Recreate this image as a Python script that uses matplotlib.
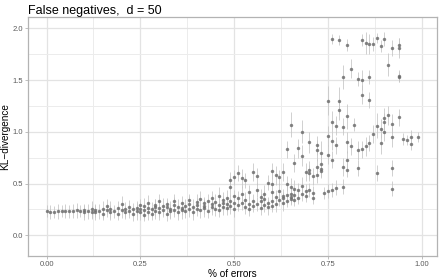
# KL-divergence vs share of false negatives (d = 50)

import matplotlib.pyplot as plt
from matplotlib.ticker import MultipleLocator

plt.rcParams["font.family"] = ["Liberation Sans", "DejaVu Sans"]

# % of errors for each run
pct = [
    0.00, 0.01, 0.02, 0.03, 0.04, 0.05, 0.06, 0.07, 0.08, 0.09,
    0.10, 0.10, 0.11, 0.12, 0.12, 0.13, 0.13, 0.14, 0.15, 0.15,
    0.16, 0.16, 0.17, 0.17, 0.18, 0.19, 0.19, 0.20, 0.20, 0.21,
    0.21, 0.22, 0.22, 0.23, 0.23, 0.24, 0.24, 0.25, 0.25, 0.25,
    0.26, 0.26, 0.26, 0.27, 0.27, 0.27, 0.28, 0.28, 0.29, 0.29,
    0.29, 0.30, 0.30, 0.30, 0.31, 0.31, 0.32, 0.32, 0.32, 0.33,
    0.33, 0.34, 0.34, 0.34, 0.35, 0.35, 0.36, 0.36, 0.36, 0.37,
    0.37, 0.38, 0.38, 0.38, 0.39, 0.39, 0.40, 0.40, 0.40, 0.41,
    0.41, 0.42, 0.42, 0.42, 0.43, 0.43, 0.44, 0.44, 0.44, 0.45,
    0.45, 0.46, 0.46, 0.46, 0.47, 0.47, 0.47, 0.48, 0.48, 0.48,
    0.49, 0.49, 0.49, 0.49, 0.50, 0.50, 0.50, 0.50,
    0.51, 0.51, 0.51, 0.52, 0.52, 0.52, 0.53, 0.53, 0.53,
    0.54, 0.54, 0.54, 0.55, 0.55, 0.55, 0.56, 0.56, 0.56,
    0.57, 0.57, 0.57, 0.58, 0.58, 0.58, 0.59, 0.59, 0.59,
    0.60, 0.60, 0.60, 0.60, 0.60, 0.61, 0.61, 0.61, 0.62, 0.62, 0.62,
    0.63, 0.63, 0.63, 0.63, 0.64, 0.64, 0.64, 0.64,
    0.65, 0.65, 0.65, 0.65, 0.65, 0.66, 0.66, 0.66, 0.66,
    0.67, 0.67, 0.67, 0.68, 0.68, 0.68, 0.68, 0.69, 0.69, 0.69,
    0.70, 0.70, 0.70, 0.70, 0.71, 0.71, 0.71,
    0.72, 0.72, 0.72, 0.72, 0.73, 0.73, 0.73, 0.73, 0.74,
    0.75, 0.75, 0.75, 0.75, 0.76, 0.76, 0.76, 0.76, 0.76,
    0.77, 0.77, 0.77, 0.78, 0.78, 0.78,
    0.79, 0.79, 0.79, 0.79, 0.80, 0.80, 0.80, 0.80, 0.80,
    0.81, 0.81, 0.82, 0.83, 0.83, 0.83, 0.84, 0.84, 0.84, 0.84,
    0.85, 0.85, 0.86, 0.86, 0.86, 0.86, 0.87, 0.87, 0.88, 0.88, 0.88,
    0.89, 0.89, 0.89, 0.90, 0.90, 0.90, 0.90, 0.91, 0.91,
    0.92, 0.92, 0.92, 0.92, 0.92, 0.94, 0.94, 0.94, 0.94, 0.94,
    0.95, 0.96, 0.97, 0.97, 0.99,
]

# estimated KL-divergence (mean)
kl = [
    0.235, 0.225, 0.225, 0.23, 0.235, 0.235, 0.23, 0.235, 0.24, 0.235,
    0.22, 0.24, 0.23, 0.25, 0.22, 0.22, 0.24, 0.23, 0.25, 0.21,
    0.28, 0.24, 0.22, 0.25, 0.23, 0.26, 0.21, 0.24, 0.30, 0.22,
    0.25, 0.27, 0.23, 0.21, 0.25, 0.26, 0.23, 0.22, 0.29, 0.25,
    0.24, 0.20, 0.28, 0.22, 0.26, 0.31, 0.25, 0.21, 0.27, 0.23,
    0.29, 0.22, 0.26, 0.33, 0.24, 0.28, 0.21, 0.27, 0.30, 0.25,
    0.23, 0.29, 0.24, 0.33, 0.22, 0.27, 0.26, 0.31, 0.24, 0.28,
    0.23, 0.30, 0.25, 0.34, 0.27, 0.22, 0.29, 0.32, 0.25, 0.24,
    0.35, 0.28, 0.31, 0.26, 0.33, 0.23, 0.30, 0.36, 0.27, 0.25,
    0.32, 0.29, 0.38, 0.24, 0.34, 0.27, 0.31, 0.26, 0.36, 0.30,
    0.53, 0.28, 0.33, 0.47, 0.25, 0.31, 0.56, 0.38,
    0.60, 0.36, 0.29, 0.55, 0.31, 0.40, 0.53, 0.27, 0.34,
    0.42, 0.30, 0.25, 0.61, 0.33, 0.28, 0.57, 0.44, 0.30,
    0.37, 0.26, 0.33, 0.40, 0.29, 0.35, 0.51, 0.31, 0.27,
    0.62, 0.50, 0.42, 0.33, 0.28, 0.58, 0.37, 0.30, 0.56, 0.43, 0.34,
    0.61, 0.38, 0.31, 0.36, 0.83, 0.50, 0.39, 0.33,
    1.07, 0.47, 0.37, 0.35, 0.40, 0.70, 0.39, 0.34, 0.45,
    0.84, 0.44, 0.36, 0.77, 1.00, 0.48, 0.40, 0.61, 0.43, 0.38,
    0.90, 0.63, 0.60, 0.44, 0.57, 0.41, 0.36,
    0.87, 0.82, 0.66, 0.58, 0.80, 0.69, 0.64, 0.62, 0.41,
    1.30, 0.96, 0.78, 0.43, 1.90, 1.10, 0.91, 0.73, 0.44,
    1.06, 0.87, 0.46, 1.89, 1.30, 1.21,
    1.53, 1.05, 0.66, 0.47, 1.84, 1.15, 0.90, 0.73, 0.63,
    1.61, 0.86, 1.07, 1.51, 0.82, 0.65, 1.89, 1.50, 1.36, 0.83,
    1.86, 0.86, 1.85, 1.53, 1.31, 0.89, 1.85, 0.98, 1.91, 1.06, 0.60,
    1.83, 1.03, 0.89, 1.90, 1.13, 1.10, 1.00, 1.65, 1.16,
    1.81, 1.08, 0.95, 0.65, 0.45, 1.84, 1.81, 1.54, 1.53, 1.14,
    0.93, 0.92, 0.95, 0.88, 0.95,
]

# half-width of the error bars
kl_err = [
    0.06, 0.07, 0.06, 0.07, 0.06, 0.07, 0.06, 0.07, 0.07, 0.06,
    0.07, 0.06, 0.07, 0.08, 0.06, 0.07, 0.06, 0.07, 0.08, 0.06,
    0.07, 0.06, 0.07, 0.08, 0.06, 0.07, 0.06, 0.07, 0.08, 0.06,
    0.07, 0.07, 0.06, 0.07, 0.06, 0.07, 0.08, 0.07, 0.06, 0.07,
    0.07, 0.06, 0.08, 0.07, 0.06, 0.08, 0.07, 0.06, 0.08, 0.07,
    0.06, 0.07, 0.08, 0.07, 0.06, 0.08, 0.07, 0.07, 0.06, 0.08,
    0.07, 0.08, 0.06, 0.07, 0.07, 0.08, 0.06, 0.07, 0.08, 0.07,
    0.06, 0.08, 0.07, 0.06, 0.08, 0.07, 0.07, 0.08, 0.06, 0.07,
    0.08, 0.07, 0.06, 0.08, 0.07, 0.06, 0.08, 0.07, 0.07, 0.06,
    0.08, 0.07, 0.09, 0.06, 0.08, 0.07, 0.07, 0.06, 0.08, 0.07,
    0.08, 0.07, 0.06, 0.09, 0.07, 0.08, 0.07, 0.06,
    0.08, 0.07, 0.06, 0.09, 0.07, 0.08, 0.07, 0.06, 0.08,
    0.07, 0.08, 0.06, 0.09, 0.07, 0.06, 0.08, 0.07, 0.07,
    0.08, 0.06, 0.07, 0.09, 0.07, 0.08, 0.07, 0.06, 0.07,
    0.08, 0.10, 0.07, 0.08, 0.06, 0.09, 0.07, 0.08, 0.07, 0.08, 0.06,
    0.09, 0.07, 0.08, 0.06, 0.08, 0.07, 0.09, 0.06,
    0.12, 0.08, 0.07, 0.06, 0.08, 0.09, 0.07, 0.06, 0.08,
    0.09, 0.07, 0.06, 0.10, 0.11, 0.08, 0.07, 0.09, 0.07, 0.06,
    0.10, 0.09, 0.08, 0.07, 0.08, 0.07, 0.06,
    0.09, 0.10, 0.08, 0.07, 0.11, 0.09, 0.08, 0.07, 0.06,
    0.14, 0.10, 0.09, 0.07, 0.05, 0.10, 0.09, 0.08, 0.07,
    0.09, 0.08, 0.07, 0.05, 0.13, 0.10,
    0.12, 0.08, 0.09, 0.07, 0.06, 0.12, 0.10, 0.08, 0.07,
    0.09, 0.08, 0.06, 0.07, 0.09, 0.08, 0.06, 0.10, 0.09, 0.08,
    0.11, 0.09, 0.10, 0.07, 0.08, 0.08, 0.07, 0.09, 0.05, 0.12, 0.08,
    0.06, 0.09, 0.10, 0.07, 0.10, 0.08, 0.09, 0.11, 0.09,
    0.08, 0.09, 0.10, 0.08, 0.07, 0.07, 0.10, 0.06, 0.05, 0.08,
    0.06, 0.05, 0.07, 0.06, 0.05,
]

fig = plt.figure(figsize=(4.4, 2.8), dpi=100)
ax = fig.add_axes([0.064, 0.086, 0.929, 0.853])

ax.errorbar(pct, kl, yerr=kl_err, fmt="none", ecolor="#c4c4c4",
            elinewidth=0.7, alpha=0.8, zorder=2)
ax.scatter(pct, kl, s=6, color="#6e6e6e", alpha=0.85, linewidths=0, zorder=3)

ax.set_xlim(-0.049, 1.04)
ax.set_ylim(-0.2, 2.11)
ax.xaxis.set_major_locator(MultipleLocator(0.25))
ax.yaxis.set_major_locator(MultipleLocator(0.5))
ax.xaxis.set_minor_locator(MultipleLocator(0.125))
ax.yaxis.set_minor_locator(MultipleLocator(0.25))
ax.xaxis.set_major_formatter(lambda v, p: f"{v:.2f}")
ax.yaxis.set_major_formatter(lambda v, p: f"{v:.1f}")

ax.grid(which="major", color="#e3e3e3", linewidth=0.9, zorder=0)
ax.grid(which="minor", color="#ececec", linewidth=0.7, zorder=0)
ax.set_axisbelow(True)
for s in ax.spines.values():
    s.set_color("#b3b3b3")
    s.set_linewidth(0.9)

ax.tick_params(which="major", length=2.5, width=0.6, color="#b3b3b3",
               labelsize=5.5, labelcolor="#5a5a5a", pad=1)
ax.tick_params(which="minor", length=0)

ax.set_xlabel("% of errors", fontsize=7.2, labelpad=1)
ax.set_ylabel("KL\u2212divergence", fontsize=7.2, labelpad=2)
ax.set_title("False negatives,  d = 50", loc="left", fontsize=9, pad=2.5)

plt.savefig("out.png", dpi=100)
